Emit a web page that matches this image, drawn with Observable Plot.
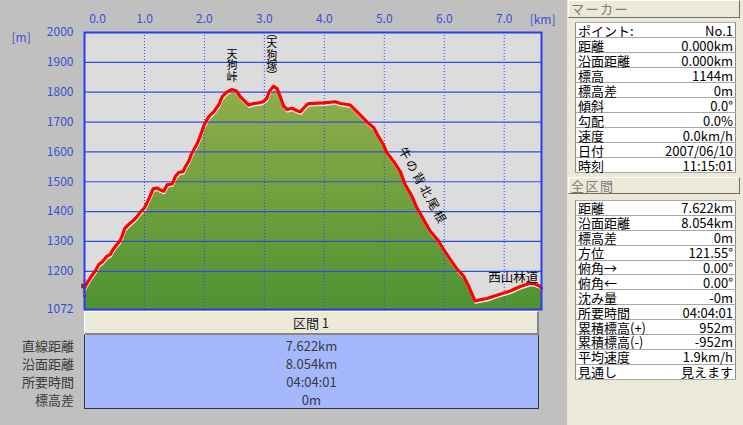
<!DOCTYPE html>
<html><head><meta charset="utf-8">
<script src="https://cdn.jsdelivr.net/npm/d3@7"></script>
<script src="https://cdn.jsdelivr.net/npm/@observablehq/plot@0.6"></script>
<style>
html,body{margin:0;padding:0;background:#c0c0c0;}
#page{position:relative;width:743px;height:425px;overflow:hidden;background:#c0c0c0;font-family:"Noto Sans CJK JP",sans-serif;}
#chart{position:absolute;left:0;top:0;}
.panel{position:absolute;left:567px;top:0;width:176px;height:425px;background:#ece9d8;}
.hdr{position:absolute;left:1px;width:172px;background:#ece9d8;border-top:1px solid #fff;border-left:1px solid #fff;border-right:1px solid #716f64;border-bottom:1px solid #716f64;color:#7c7c7c;font-size:13px;letter-spacing:1.5px;line-height:16px;padding-left:2px;box-sizing:border-box;}
table.info{position:absolute;left:8px;width:161px;border-collapse:collapse;background:#fff;font-size:13px;color:#000;border:1px solid #8c8c8c;}
table.info td{border-top:1px solid #a8a8a8;border-bottom:1px solid #a8a8a8;padding:0 2px;line-height:13px;white-space:nowrap;}
table.info td.v{text-align:right;}
.bar{position:absolute;left:84px;top:311px;width:455px;height:24px;box-sizing:border-box;background:#ece9d8;border-top:1px solid #fff;border-left:1px solid #fff;border-right:2px solid #8a877c;border-bottom:2px solid #8a877c;text-align:center;font-size:13px;line-height:21px;color:#222;}
.blue{position:absolute;left:84px;top:335px;width:455px;height:74px;box-sizing:border-box;background:#a5b8fd;border:1px solid #33334a;border-top:none;}
.row{position:absolute;font-size:13px;line-height:18px;color:#3a3a3a;}
</style></head>
<body><div id="page"><div id="chart"></div>
<div class="panel" id="panel"></div>
<div class="bar" id="bar"></div>
<div class="blue" id="blue"></div>
</div>
<script>
// ---- profile data (distance km, elevation m)
const km = [0,0.033,0.10,0.18,0.24,0.295,0.367,0.433,0.46,0.517,0.588,0.628,0.667,0.738,0.85,0.933,1.0,1.045,1.088,1.145,1.212,1.255,1.322,1.378,1.462,1.517,1.572,1.645,1.683,1.738,1.778,1.822,1.878,1.928,1.995,2.072,2.155,2.238,2.295,2.378,2.462,2.533,2.6,2.683,2.738,2.822,2.9,2.983,3.04,3.088,3.155,3.212,3.267,3.322,3.378,3.462,3.545,3.6,3.683,3.738,3.988,4.183,4.267,4.433,4.488,4.6,4.722,4.822,4.905,4.988,5.045,5.155,5.267,5.35,5.462,5.545,5.655,5.767,5.905,5.988,6.1,6.212,6.322,6.405,6.512,6.712,6.878,7.1,7.267,7.433,7.517,7.588,7.622];
const elev = [1144,1157,1179,1201,1223,1231,1249,1257,1268,1284,1301,1318,1342,1357,1377,1398,1412,1431,1449,1476,1479,1473,1468,1490,1493,1518,1531,1534,1551,1568,1590,1607,1627,1651,1690,1718,1734,1757,1784,1801,1809,1804,1784,1768,1757,1762,1764,1768,1779,1804,1820,1812,1784,1753,1742,1746,1738,1734,1753,1762,1764,1768,1762,1757,1746,1723,1698,1682,1651,1623,1596,1568,1534,1490,1451,1412,1373,1334,1301,1273,1240,1207,1184,1151,1101,1109,1120,1134,1149,1160,1157,1151,1144];
const xTicks = [0,1,2,3,4,5,6,7];
const yTicks = [2000,1900,1800,1700,1600,1500,1400,1300,1200,1072];
const yGrid = [1900,1800,1700,1600,1500,1400,1300,1200];
const xGrid = [1,2,3,4,5,6,7];
const xMax = 7.622, yMin = 1072, yMax = 2000;
// ---- place-name annotations
const peakNames = ["天\n狗\n峠", "天\n狗\n塚"];
const peakKm = [2.458, 3.125];
const peakM = [1889, 1925];
const parenNames = ["︵", "︶"];
const ridgeName = ["牛の背北尾根"];
const ridgeKm = [5.64];
const ridgeM = [1485];
const roadName = ["西山林道"];
const roadKm = [7.15];
const roadM = [1176];
// ---- panel texts
const markerTitle = "マーカー";
const markerLabels = ["ポイント:","距離","沿面距離","標高","標高差","傾斜","勾配","速度","日付","時刻"];
const markerValues = ["No.1","0.000km","0.000km","1144m","0m","0.0°","0.0%","0.0km/h","2007/06/10","11:15:01"];
const totalTitle = "全区間";
const totalLabels = ["距離","沿面距離","標高差","方位","俯角→","俯角←","沈み量","所要時間","累積標高(+)","累積標高(-)","平均速度","見通し"];
const totalValues = ["7.622km","8.054km","0m","121.55°","0.00°","0.00°","-0m","04:04:01","952m","-952m","1.9km/h","見えます"];
const sectionTitle = "区間 1";
const sectionLabels = ["直線距離","沿面距離","所要時間","標高差"];
const sectionValues = ["7.622km","8.054km","04:04:01","0m"];

const data = km.map((k,i)=>({km:k, m:elev[i]}));
const peaks = peakNames.map((n,i)=>({n, km:peakKm[i], m:peakM[i]}));
const tsuka = [peaks[1]];
const ridge = ridgeName.map((n,i)=>({n, km:ridgeKm[i], m:ridgeM[i]}));
const road = roadName.map((n,i)=>({n, km:roadKm[i], m:roadM[i]}));
const start = [data[0]];

const blue = "#3a4fd8";
const chart = Plot.plot({
  width: 567, height: 318,
  marginLeft: 84, marginRight: 26, marginTop: 32, marginBottom: 9,
  x: {domain: [0, xMax]},
  y: {domain: [yMin, yMax]},
  style: {background: "transparent", fontFamily: "'Noto Sans CJK JP', sans-serif", fontSize: "12px"},
  marks: [
    Plot.frame({fill: "#dcdcdc", stroke: "none"}),
    Plot.areaY(data, {x: "km", y: "m", y1: yMin, fill: "url(#elevGrad)", dy: 3, dx: 1, clip: true}),
    Plot.line(data, {x: "km", y: "m", stroke: "#f4f4f4", strokeWidth: 2, dy: 2, dx: 0.5, clip: true}),
    Plot.ruleY(yGrid, {stroke: "#2f4ee0", strokeWidth: 1.2}),
    Plot.ruleX(xGrid, {stroke: "#3344ff", strokeDasharray: "1,2", strokeWidth: 1}),
    Plot.line(data, {x: "km", y: "m", stroke: "#ff0000", strokeWidth: 3.2, strokeLinejoin: "round"}),
    Plot.text(peaks, {x: "km", y: "m", text: "n", fontSize: 11, lineHeight: 1.05, fill: "#000"}),
    Plot.text(tsuka, {x: "km", y: "m", text: () => parenNames[0], fontSize: 11, dy: -21, fill: "#000"}),
    Plot.text(tsuka, {x: "km", y: "m", text: () => parenNames[1], fontSize: 11, dy: 22, fill: "#000"}),
    Plot.text(ridge, {x: "km", y: "m", text: "n", fontSize: 12, rotate: 61, fill: "#000"}),
    Plot.text(road, {x: "km", y: "m", text: "n", fontSize: 12.5, fill: "#000"}),
    Plot.dot(start, {x: "km", y: "m", symbol: "square", r: 2.6, fill: "#a51a1a", dy: -2, dx: -1}),
    Plot.dot(start, {x: "km", y: "m", r: 1.8, fill: "#e08a3c", dy: -7, dx: 0}),
    Plot.dot(start, {x: "km", y: "m", symbol: "square", r: 2, fill: "#8d7c55", dy: 4, dx: 0}),
    Plot.dot(start, {x: "km", y: "m", symbol: "square", r: 1.4, fill: "#222", dy: 8, dx: 0}),
    Plot.frame({stroke: "#2b3cf0", strokeWidth: 2}),
    Plot.axisX([xTicks[0]], {anchor: "top", tickSize: 0, tickPadding: 10, dx: 13, fill: blue, tickFormat: d => d.toFixed(1), label: null}),
    Plot.axisX(xTicks.slice(1), {anchor: "top", tickSize: 0, tickPadding: 10, fill: blue, tickFormat: d => d.toFixed(1), label: null}),
    Plot.axisY(yTicks, {anchor: "left", tickSize: 0, tickPadding: 11, fill: blue, tickFormat: d => String(d), label: null}),
    Plot.text(["[km]"], {frameAnchor: "top-right", dx: 14, dy: -17, fill: blue, fontSize: 12}),
    Plot.text(["[m]"], {frameAnchor: "top-left", dx: -73, dy: 1, fill: blue, fontSize: 12})
  ]
});
const ns = "http://www.w3.org/2000/svg";
const defs = document.createElementNS(ns, "defs");
defs.innerHTML = '<linearGradient id="elevGrad" x1="0" y1="0" x2="0" y2="1"><stop offset="0" stop-color="#90ae4a"/><stop offset="1" stop-color="#4f9231"/></linearGradient>';
chart.prepend(defs);
chart.querySelectorAll("text").forEach(t => { if (t.textContent === ridgeName[0]) t.style.letterSpacing = "2.5px"; });
document.getElementById("chart").appendChild(chart);

// ---- right panel
const panel = document.getElementById("panel");
function header(txt, top, h){ const d=document.createElement("div"); d.className="hdr"; d.style.top=top+"px"; d.style.height=h+"px"; d.textContent=txt; panel.appendChild(d); }
function table(labels, values, top, rowH){
  const t=document.createElement("table"); t.className="info"; t.style.top=top+"px";
  labels.forEach((l,i)=>{ const tr=document.createElement("tr"); tr.style.height=rowH+"px";
    const a=document.createElement("td"); a.textContent=l; const b=document.createElement("td"); b.className="v"; b.textContent=values[i];
    tr.appendChild(a); tr.appendChild(b); t.appendChild(tr); });
  panel.appendChild(t);
}
header(markerTitle, 0, 18);
table(markerLabels, markerValues, 22, 15);
header(totalTitle, 177, 17);
table(totalLabels, totalValues, 200, 14.9);

// ---- bottom section
document.getElementById("bar").textContent = sectionTitle;
const page = document.getElementById("page");
sectionLabels.forEach((l,i)=>{
  const a=document.createElement("div"); a.className="row"; a.style.left="0px"; a.style.width="74px"; a.style.textAlign="right"; a.style.top=(337+i*18)+"px"; a.textContent=l; page.appendChild(a);
  const b=document.createElement("div"); b.className="row"; b.style.left="84px"; b.style.width="455px"; b.style.textAlign="center"; b.style.top=(337+i*18)+"px"; b.textContent=sectionValues[i]; page.appendChild(b);
});
</script></body></html>
